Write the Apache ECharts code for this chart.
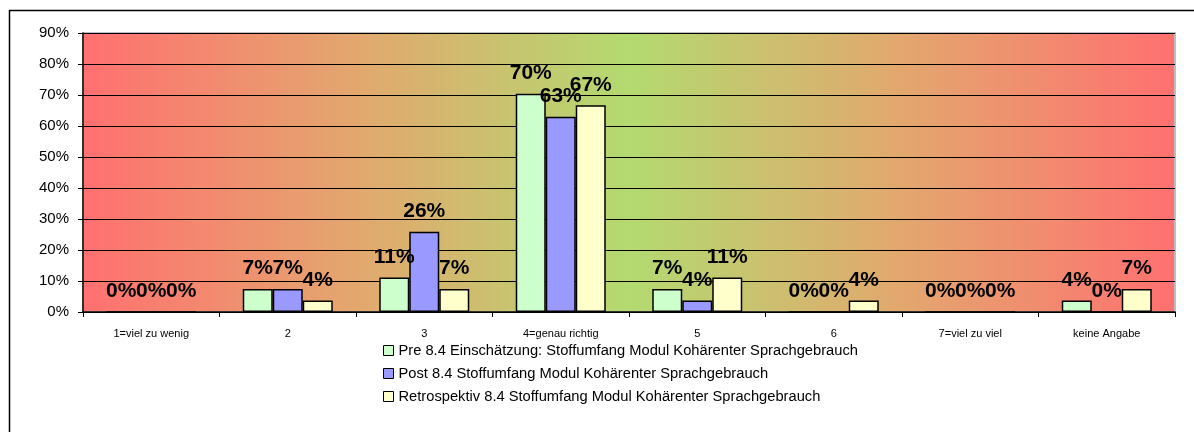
<!DOCTYPE html>
<html>
<head>
<meta charset="utf-8">
<script src="https://cdn.jsdelivr.net/npm/echarts@6/dist/echarts.min.js"></script>
<style>
  html, body { margin: 0; padding: 0; background: #fff; }
  #chart { width: 1194px; height: 432px; }
</style>
</head>
<body>
<div id="chart"></div>
<script>
const categories = ['1=viel zu wenig', '2', '3', '4=genau richtig', '5', '6', '7=viel zu viel', 'keine Angabe']
const preValues = [0, 7.4, 11.1, 70.4, 7.4, 0, 0, 3.7]
const postValues = [0, 7.4, 25.9, 63.0, 3.7, 0, 0, 0]
const retroValues = [0, 3.7, 7.4, 66.7, 11.1, 3.7, 0, 7.4]
const seriesNames = [
  'Pre 8.4 Einschätzung: Stoffumfang Modul Kohärenter Sprachgebrauch',
  'Post 8.4 Stoffumfang Modul Kohärenter Sprachgebrauch',
  'Retrospektiv 8.4 Stoffumfang Modul Kohärenter Sprachgebrauch',
]
const seriesColors = ['#ccffcc', '#9999ff', '#ffffcc']

const font = '"Liberation Sans", Arial, sans-serif'

function barSeries(name, data, color) {
  return {
    name,
    type: 'bar',
    data,
    barWidth: 30,
    barGap: '0%',
    itemStyle: { color, borderColor: '#000', borderWidth: 1.5 },
    label: {
      show: true,
      position: 'top',
      distance: 10,
      color: '#000',
      fontFamily: font,
      fontWeight: 'bold',
      fontSize: 21,
      formatter: (p) => Math.round(p.value) + '%',
    },
  }
}

const chart = echarts.init(document.getElementById('chart'))
chart.setOption({
  animation: false,
  textStyle: { fontFamily: font },
  graphic: [
    {
      type: 'rect',
      left: 7,
      top: 8,
      shape: { width: 1200, height: 500 },
      style: { fill: 'none', stroke: '#000', lineWidth: 1.5 },
      z: 100,
      silent: true,
    },
  ],
  grid: {
    left: 83,
    top: 33,
    right: 19,
    bottom: 120,
    show: true,
    borderColor: '#bdbdbd',
    borderWidth: 2,
    backgroundColor: {
      type: 'linear',
      x: 0, y: 0, x2: 1, y2: 0,
      colorStops: [
        { offset: 0, color: '#ff7070' },
        { offset: 0.25, color: '#e3a76e' },
        { offset: 0.5, color: '#b3da70' },
        { offset: 0.75, color: '#e3a76e' },
        { offset: 1, color: '#ff7070' },
      ],
    },
  },
  legend: {
    orient: 'vertical',
    left: 378,
    top: 338,
    itemWidth: 10,
    itemHeight: 10,
    itemGap: 8,
    icon: 'rect',
    itemStyle: { borderColor: '#000', borderWidth: 1 },
    textStyle: { fontFamily: font, fontSize: 14.7, color: '#000', lineHeight: 15 },
    data: seriesNames,
  },
  xAxis: {
    type: 'category',
    data: categories,
    axisLine: { lineStyle: { color: '#000', width: 1.5 } },
    axisTick: { show: true, length: 5, lineStyle: { color: '#000' } },
    axisLabel: { color: '#000', fontSize: 11, fontFamily: font, margin: 16, interval: 0 },
  },
  yAxis: {
    type: 'value',
    min: 0,
    max: 90,
    interval: 10,
    axisLine: { show: true, lineStyle: { color: '#000', width: 1.5 } },
    axisTick: { show: true, length: 5, lineStyle: { color: '#000' } },
    axisLabel: { color: '#000', fontSize: 15, fontFamily: font, margin: 14, formatter: '{value}%' },
    splitLine: { lineStyle: { color: '#000', width: 1 } },
  },
  series: [
    barSeries(seriesNames[0], preValues, seriesColors[0]),
    barSeries(seriesNames[1], postValues, seriesColors[1]),
    barSeries(seriesNames[2], retroValues, seriesColors[2]),
  ],
})
</script>
</body>
</html>
